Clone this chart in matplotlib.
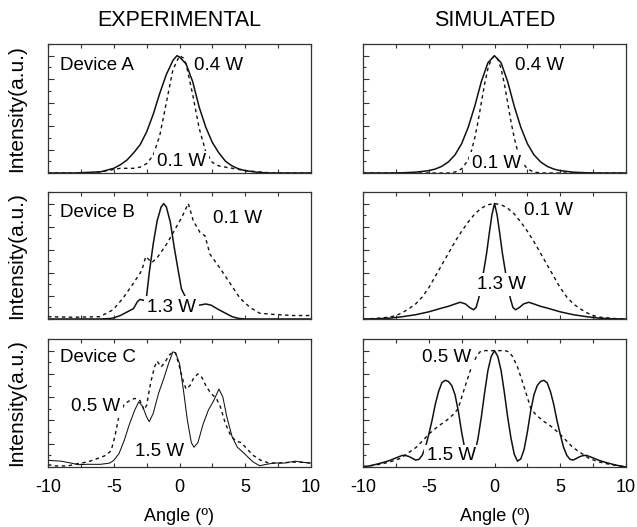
import matplotlib
matplotlib.use("Agg")
import matplotlib.pyplot as plt
from matplotlib.ticker import MultipleLocator

plt.rcParams['font.family'] = ['Liberation Sans', 'DejaVu Sans']

# ---------------- data ----------------
# Device A, experimental
expA_solid_x = [-10, -8, -7, -6, -5, -4.5, -4, -3.5, -3, -2.5, -2, -1.5, -1, -0.5, -0.2, 0, 0.5, 1, 1.5, 2, 2.5, 3, 3.5, 4, 4.5, 5, 6, 7, 10]
expA_solid_y = [0, 0, 0.005, 0.01, 0.04, 0.07, 0.11, 0.17, 0.24, 0.35, 0.5, 0.68, 0.84, 0.96, 1.0, 0.99, 0.93, 0.78, 0.56, 0.39, 0.26, 0.17, 0.1, 0.06, 0.035, 0.02, 0.005, 0, 0]
expA_dash_x = [-10, -7, -6, -5, -4.5, -4, -3.5, -3, -2.5, -2, -1.5, -1, -0.5, 0, 0.3, 0.5, 1, 1.5, 2, 2.5, 3, 3.5, 4, 4.5, 5, 6, 7, 10]
expA_dash_y = [0, 0, 0.01, 0.03, 0.04, 0.04, 0.04, 0.05, 0.08, 0.15, 0.32, 0.6, 0.88, 1.0, 0.98, 0.93, 0.67, 0.38, 0.18, 0.09, 0.06, 0.05, 0.04, 0.03, 0.02, 0.01, 0, 0]

# Device A, simulated
simA_solid_x = [-10, -8, -7, -6, -5, -4.5, -4, -3.5, -3, -2.5, -2, -1.5, -1, -0.5, 0, 0.5, 1, 1.5, 2, 2.5, 3, 3.5, 4, 4.5, 5, 6, 7, 8, 10]
simA_solid_y = [0, 0, 0.002, 0.007, 0.02, 0.034, 0.057, 0.095, 0.155, 0.25, 0.39, 0.57, 0.78, 0.94, 1.0, 0.94, 0.78, 0.57, 0.39, 0.25, 0.155, 0.095, 0.057, 0.034, 0.02, 0.007, 0.002, 0, 0]
simA_dash_x = [-10, -3.5, -3, -2.5, -2, -1.75, -1.5, -1.25, -1, -0.75, -0.5, -0.25, 0, 0.25, 0.5, 0.75, 1, 1.25, 1.5, 1.75, 2, 2.5, 3, 3.5, 10]
simA_dash_y = [0, 0, 0.008, 0.035, 0.11, 0.19, 0.3, 0.44, 0.6, 0.76, 0.89, 0.97, 1.0, 0.97, 0.89, 0.76, 0.6, 0.44, 0.3, 0.19, 0.11, 0.035, 0.008, 0, 0]

# Device B, experimental
expB_solid_x = [-10, -6, -5.2, -5, -4.5, -4, -3.5, -3.2, -3.0, -2.7, -2.5, -2.3, -2.0, -1.7, -1.4, -1.2, -1.0, -0.7, -0.4, -0.1, 0.15, 0.5, 1.0, 1.5, 2.0, 2.4, 3.0, 3.5, 4.0, 4.5, 5, 10]
expB_solid_y = [0, 0, 0.005, 0.01, 0.03, 0.06, 0.09, 0.15, 0.17, 0.16, 0.2, 0.4, 0.65, 0.85, 0.97, 1.0, 0.97, 0.84, 0.62, 0.42, 0.26, 0.18, 0.13, 0.12, 0.13, 0.12, 0.08, 0.05, 0.02, 0.005, 0, 0]
expB_dash_x = [-10, -8, -6.05, -5.05, -4.3, -3.5, -2.87, -2.57, -2.1, -1.7, -0.97, -0.47, 0.17, 0.67, 1.05, 1.56, 1.94, 2.32, 3.08, 3.84, 4.6, 5.36, 6.1, 7.13, 8.65, 10]
expB_dash_y = [0.02, 0.015, 0.02, 0.08, 0.18, 0.31, 0.42, 0.54, 0.49, 0.53, 0.65, 0.75, 0.88, 1.0, 0.85, 0.75, 0.72, 0.56, 0.44, 0.31, 0.18, 0.1, 0.05, 0.04, 0.03, 0.03]

# Device B, simulated
simB_solid_x = [-10, -9, -8, -7, -6, -5, -4, -3.5, -3, -2.6, -2.2, -1.9, -1.6, -1.4, -1.2, -1.0, -0.8, -0.6, -0.4, -0.2, 0,
                0.2, 0.4, 0.6, 0.8, 1.0, 1.2, 1.4, 1.6, 1.9, 2.2, 2.6, 3, 3.5, 4, 5, 6, 7, 8, 9, 10]
simB_solid_y = [0, 0.002, 0.007, 0.02, 0.037, 0.062, 0.095, 0.11, 0.13, 0.145, 0.13, 0.1, 0.08, 0.1, 0.18, 0.3, 0.43, 0.57, 0.74, 0.9, 1.0,
                0.9, 0.74, 0.57, 0.43, 0.3, 0.18, 0.1, 0.08, 0.1, 0.13, 0.145, 0.13, 0.11, 0.095, 0.062, 0.037, 0.02, 0.007, 0.002, 0]
simB_dash_x = [-10, -9, -8, -7.5, -7, -6.5, -6, -5.5, -5, -4.5, -4, -3.5, -3, -2.5, -2, -1.5, -1, -0.5, 0,
               0.5, 1, 1.5, 2, 2.5, 3, 3.5, 4, 4.5, 5, 5.5, 6, 6.5, 7, 7.5, 8, 9, 10]
simB_dash_y = [0, 0.005, 0.016, 0.03, 0.055, 0.09, 0.13, 0.19, 0.27, 0.37, 0.47, 0.57, 0.67, 0.76, 0.84, 0.91, 0.96, 0.99, 1.0,
               0.99, 0.96, 0.91, 0.84, 0.76, 0.67, 0.57, 0.47, 0.37, 0.27, 0.19, 0.13, 0.09, 0.055, 0.03, 0.016, 0.005, 0]

# Device C, experimental
expC_solid_x = [-10, -9, -8.3, -7.7, -7, -6, -5.3, -5, -4.6, -4.2, -3.8, -3.4, -3.1, -2.8, -2.5, -2.3, -2.0, -1.6, -1.2, -0.8, -0.5, -0.3, 0,
                0.3, 0.6, 0.9, 1.1, 1.4, 1.8, 2.2, 2.6, 3.0, 3.3, 3.6, 4.0, 4.4, 4.8, 5.2, 5.6, 6.1, 6.6, 7.2, 8, 8.8, 9.4, 10]
expC_solid_y = [0.057, 0.05, 0.035, 0.02, 0.023, 0.023, 0.034, 0.057, 0.115, 0.23, 0.37, 0.49, 0.56, 0.52, 0.43, 0.39, 0.46, 0.63, 0.76, 0.9, 0.99, 0.98, 0.89,
                0.66, 0.4, 0.21, 0.17, 0.21, 0.37, 0.49, 0.57, 0.67, 0.6, 0.43, 0.26, 0.17, 0.13, 0.086, 0.043, 0.011, 0.023, 0.034, 0.034, 0.05, 0.04, 0.034]
expC_dash_x = [-10, -9.4, -8.5, -7.7, -7, -6.3, -5.6, -5.2, -4.9, -4.6, -4.2, -3.8, -3.4, -3.0, -2.7, -2.5, -2.2, -1.9, -1.7, -1.4, -1.1, -0.8, -0.5, -0.3, 0,
               0.3, 0.5, 0.8, 1.1, 1.4, 1.7, 2.0, 2.4, 2.8, 3.1, 3.5, 3.9, 4.3, 4.7, 5.1, 5.6, 6.2, 6.8, 7.5, 8.3, 9, 10]
expC_dash_y = [0.02, 0.009, 0.009, 0.03, 0.043, 0.07, 0.1, 0.14, 0.27, 0.44, 0.54, 0.57, 0.59, 0.57, 0.49, 0.53, 0.72, 0.86, 0.91, 0.86, 0.9, 0.96, 0.99, 0.98, 0.86,
               0.73, 0.67, 0.7, 0.77, 0.8, 0.77, 0.7, 0.63, 0.59, 0.52, 0.37, 0.27, 0.22, 0.21, 0.16, 0.1, 0.057, 0.034, 0.034, 0.04, 0.043, 0.034]

# Device C, simulated
simC_solid_x = [-10, -9.5, -9, -8.5, -8, -7.5, -7, -6.75, -6.5, -6.25, -6, -5.75, -5.5, -5.25, -5, -4.75, -4.5, -4.25, -4, -3.75, -3.5, -3.25, -3,
                -2.75, -2.5, -2.25, -2, -1.75, -1.5, -1.25, -1, -0.75, -0.5, -0.25, 0,
                0.25, 0.5, 0.75, 1, 1.25, 1.5, 1.75, 2, 2.25, 2.5, 2.75, 3, 3.25, 3.5, 3.75, 4, 4.25, 4.5, 4.75, 5,
                5.25, 5.5, 5.75, 6, 6.25, 6.5, 6.75, 7, 7.5, 8, 8.5, 9, 9.5, 10]
simC_solid_y = [0, 0.01, 0.023, 0.038, 0.055, 0.078, 0.1, 0.098, 0.09, 0.075, 0.06, 0.065, 0.1, 0.17, 0.28, 0.4, 0.54, 0.65, 0.725, 0.745, 0.735, 0.7, 0.62,
                0.48, 0.3, 0.15, 0.07, 0.05, 0.11, 0.25, 0.43, 0.64, 0.83, 0.95, 1.0,
                0.95, 0.83, 0.64, 0.43, 0.25, 0.11, 0.05, 0.07, 0.15, 0.3, 0.48, 0.62, 0.7, 0.735, 0.745, 0.725, 0.65, 0.54, 0.4, 0.28,
                0.17, 0.1, 0.065, 0.06, 0.075, 0.09, 0.098, 0.1, 0.078, 0.055, 0.038, 0.023, 0.01, 0]
simC_dash_x = [-10, -9.49, -8.73, -7.97, -7.21, -6.45, -5.94, -5.43, -4.92, -4.29, -3.65, -3.15, -2.77, -2.44, -2.13, -1.75, -1.37, -1.1, -0.8, -0.5, 0,
               0.5, 0.8, 1.1, 1.37, 1.75, 2.13, 2.44, 2.77, 3.15, 3.65, 4.29, 4.92, 5.43, 5.94, 6.45, 7.21, 7.97, 8.73, 9.49, 10]
simC_dash_y = [0.005, 0.009, 0.023, 0.043, 0.072, 0.13, 0.17, 0.23, 0.29, 0.35, 0.4, 0.45, 0.5, 0.62, 0.73, 0.86, 0.95, 0.99, 1.0, 1.0, 1.0,
               1.0, 1.0, 0.99, 0.95, 0.86, 0.73, 0.62, 0.5, 0.45, 0.4, 0.35, 0.29, 0.23, 0.17, 0.13, 0.072, 0.043, 0.023, 0.009, 0.005]

col_titles = ["EXPERIMENTAL", "SIMULATED"]
x_ticks = [-10, -5, 0, 5, 10]
x_ticklabels = ["-10", "-5", "0", "5", "10"]
x_label = "Angle (º)"
y_label = "Intensity(a.u.)"

panels = [
    # (row, col, solid x, solid y, solid lw, dash x, dash y, labels[(text, x, y)])
    (0, 0, expA_solid_x, expA_solid_y, 1.1, expA_dash_x, expA_dash_y,
     [("Device A", -9.1, 0.92), ("0.4 W", 1.1, 0.92), ("0.1 W", -1.7, 0.095)]),
    (0, 1, simA_solid_x, simA_solid_y, 1.1, simA_dash_x, simA_dash_y,
     [("0.4 W", 1.55, 0.92), ("0.1 W", -1.7, 0.085)]),
    (1, 0, expB_solid_x, expB_solid_y, 1.1, expB_dash_x, expB_dash_y,
     [("Device B", -9.1, 0.92), ("0.1 W", 2.55, 0.87), ("1.3 W", -2.45, 0.10)]),
    (1, 1, simB_solid_x, simB_solid_y, 1.1, simB_dash_x, simB_dash_y,
     [("0.1 W", 2.25, 0.94), ("1.3 W", -1.33, 0.30)]),
    (2, 0, expC_solid_x, expC_solid_y, 0.75, expC_dash_x, expC_dash_y,
     [("Device C", -9.1, 0.94), ("0.5 W", -8.25, 0.52), ("1.5 W", -3.4, 0.13)]),
    (2, 1, simC_solid_x, simC_solid_y, 1.1, simC_dash_x, simC_dash_y,
     [("0.5 W", -5.5, 0.94), ("1.5 W", -5.15, 0.095)]),
]

W, H = 637, 527
fig = plt.figure(figsize=(W / 100, H / 100), dpi=100)
col_left = [48, 363]
ax_w = 263
rows_px = [(44, 173), (192, 319), (339, 467)]

spine_col = "#333333"
line_col = "#111111"

axes = {}
for r, (top, bot) in enumerate(rows_px):
    for c in range(2):
        ax = fig.add_axes([col_left[c] / W, 1 - bot / H, ax_w / W, (bot - top) / H])
        axes[(r, c)] = ax

for (r, c, sx, sy, slw, dx, dy, labels) in panels:
    ax = axes[(r, c)]
    ax.plot(dx, dy, color=line_col, lw=1.0, ls=(0, (2.5, 2.5)), zorder=2)
    ax.plot(sx, sy, color=line_col, lw=slw, ls='-', zorder=2)
    for (t, tx, ty) in labels:
        ax.text(tx, ty, t, fontsize=13.5, ha='left', va='center', zorder=5,
                bbox=dict(facecolor='white', edgecolor='none', pad=2.0))
    ax.set_xlim(-10, 10)
    ax.set_ylim(0, 1.1)
    ax.set_xticks(x_ticks)
    ax.xaxis.set_minor_locator(MultipleLocator(2.5))
    ax.yaxis.set_major_locator(MultipleLocator(0.2))
    ax.yaxis.set_minor_locator(MultipleLocator(0.1))
    ax.tick_params(axis='x', which='both', direction='in', top=True, bottom=True,
                   length=3, width=0.8, color=spine_col, labelsize=13, pad=9)
    ax.tick_params(axis='y', which='major', direction='in', left=True, right=False,
                   length=4, width=0.8, color=spine_col, labelleft=False)
    ax.tick_params(axis='y', which='minor', direction='in', left=True, right=False,
                   length=2, width=0.8, color=spine_col)
    for s in ax.spines.values():
        s.set_color(spine_col)
        s.set_linewidth(0.9)
        s.set_zorder(10)
    if r == 2:
        ax.set_xticklabels(x_ticklabels)
        ax.set_xlabel(x_label, fontsize=13, labelpad=8)
    else:
        ax.set_xticklabels([])
    if c == 0:
        ax.set_ylabel(y_label, fontsize=15, labelpad=12)

for c in range(2):
    fig.text((col_left[c] + ax_w / 2) / W, 1 - 21 / H, col_titles[c],
             fontsize=15.5, ha='center', va='center')

fig.savefig("out.png", dpi=100)
